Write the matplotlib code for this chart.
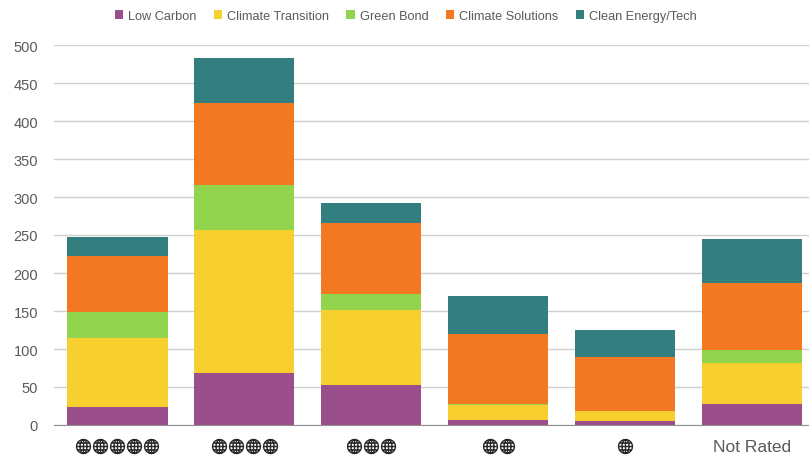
#!/usr/bin/env python3
# plot.py

import matplotlib
matplotlib.use("Agg")
import matplotlib.pyplot as plt
import numpy as np
from matplotlib.path import Path
from matplotlib.transforms import blended_transform_factory

categories = ["5 globes", "4 globes", "3 globes", "2 globes", "1 globe", "Not Rated"]
globe_counts = [5, 4, 3, 2, 1, 0]
series_names = ["Low Carbon", "Climate Transition", "Green Bond", "Climate Solutions", "Clean Energy/Tech"]
low_carbon = [24, 68, 52, 6, 5, 27]
climate_transition = [90, 189, 99, 20, 13, 54]
green_bond = [35, 59, 21, 1, 0, 18]
climate_solutions = [73, 108, 94, 93, 72, 88]
clean_energy = [25, 59, 26, 50, 35, 58]
colors = ["#9A4F8C", "#F7D02F", "#93D44F", "#F27822", "#337F80"]
yticks = list(range(0, 501, 50))

plt.rcParams["font.family"] = ["Liberation Sans", "DejaVu Sans"]
TEXT = "#5a5a5a"


def globe_marker():
    # circle with meridians and parallels
    t = np.linspace(0, 2 * np.pi, 40)
    verts, codes = [], []

    def add(xs, ys):
        verts.extend(zip(xs, ys))
        codes.extend([Path.MOVETO] + [Path.LINETO] * (len(xs) - 1))

    add(np.cos(t), np.sin(t))
    add(0.5 * np.cos(t), np.sin(t))
    add([0, 0], [-1, 1])
    for h in (-0.5, 0, 0.5):
        w = np.sqrt(1 - h * h)
        add([-w, w], [h, h])
    return Path(verts, codes)


def plot(ax):
    series = [low_carbon, climate_transition, green_bond, climate_solutions, clean_energy]
    x = np.arange(len(categories))
    bottom = np.zeros(len(categories))
    for name, vals, col in zip(series_names, series, colors):
        ax.bar(x, vals, width=0.79, bottom=bottom, color=col, label=name, zorder=3)
        bottom += np.array(vals)

    ax.set_xlim(-0.5, 5.449)
    ax.set_ylim(0, 500)
    ax.set_yticks(yticks)
    ax.tick_params(axis="y", length=0, labelsize=10.5, labelcolor=TEXT, pad=11.5)
    ax.grid(axis="y", color="#cfcfcf", linewidth=1, zorder=0)
    for s in ("top", "right", "left"):
        ax.spines[s].set_visible(False)
    ax.spines["bottom"].set_color("#909090")
    ax.spines["bottom"].set_zorder(4)

    # rating globes take the place of the tick labels
    ax.set_xticks(x)
    ax.set_xticklabels(["" if n else c for n, c in zip(globe_counts, categories)])
    ax.tick_params(axis="x", length=0, labelsize=12.5, labelcolor=TEXT, pad=10)
    trans = blended_transform_factory(ax.transData, ax.transAxes)
    marker = globe_marker()
    step = 17 / 126.9
    for pos, n in zip(x, globe_counts):
        if n:
            gx = pos + (np.arange(n) - (n - 1) / 2) * step
            ax.plot(gx, [-0.055] * n, linestyle="none", marker=marker, markersize=10,
                    markerfacecolor="none", markeredgecolor="#2a2a2a", markeredgewidth=1.0,
                    transform=trans, clip_on=False)

    ax.legend(loc="center", bbox_to_anchor=(0.466, 1.076), ncol=5, frameon=False, fontsize=9.2,
              labelcolor=TEXT, handlelength=0.65, handleheight=0.65, handletextpad=0.4,
              columnspacing=1.35, borderaxespad=0)


def main():
    fig = plt.figure(figsize=(8.09, 4.56), dpi=100)
    ax = fig.add_axes([54 / 809, 1 - 426 / 456, 755 / 809, 380 / 456])
    plot(ax)
    fig.savefig("out.png", dpi=100)


if __name__ == "__main__":
    main()
